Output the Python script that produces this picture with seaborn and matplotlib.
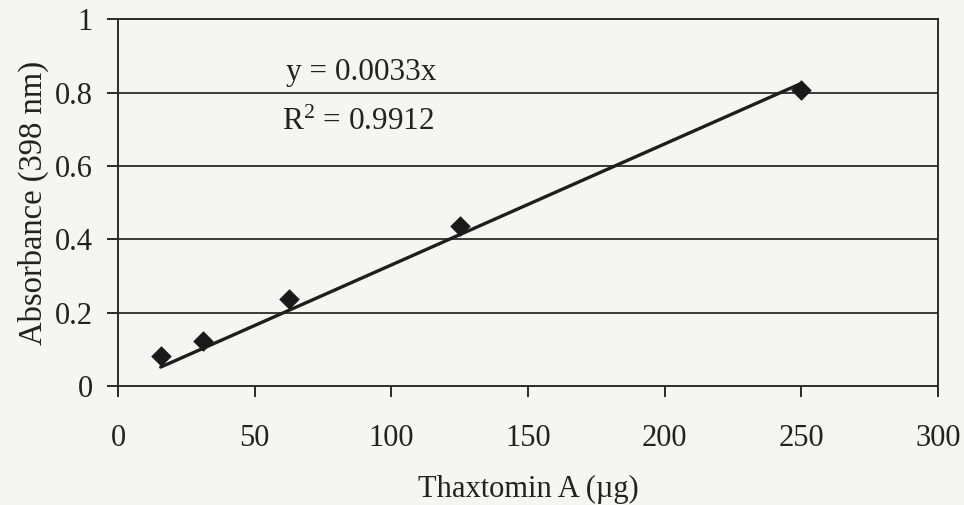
import matplotlib
matplotlib.use("Agg")
import matplotlib.pyplot as plt
import seaborn as sns
import numpy as np
import pandas as pd

# Data
thaxtomin_ug = [15.625, 31.25, 62.5, 125, 250]
absorbance = [0.082, 0.124, 0.236, 0.437, 0.807]
slope = 0.0033
r_squared = 0.9912
x_ticks = [0, 50, 100, 150, 200, 250, 300]
y_ticks = [0, 0.2, 0.4, 0.6, 0.8, 1]
y_tick_labels = ["0", "0.2", "0.4", "0.6", "0.8", "1"]

sns.set_theme(style="white")
plt.rcParams['font.family'] = ['Liberation Serif', 'DejaVu Serif']
plt.rcParams['mathtext.fontset'] = 'custom'
plt.rcParams['mathtext.rm'] = 'Liberation Serif'
plt.rcParams['mathtext.it'] = 'Liberation Serif:italic'

bg = "#f5f5f4"
ink = "#2a2a2a"

fig = plt.figure(figsize=(9.64, 5.05), dpi=100, facecolor=bg)
ax = fig.add_axes([0.1224, 0.2356, 0.8506, 0.7264])
ax.set_facecolor(bg)

df = pd.DataFrame({"x": thaxtomin_ug, "y": absorbance})
trend_x = [min(thaxtomin_ug), max(thaxtomin_ug)]
trend = pd.DataFrame({"x": trend_x, "y": [slope * v for v in trend_x]})

for yv in y_ticks[1:]:
    ax.axhline(yv, color="#3a3a3a", lw=1.4, zorder=1)

sns.lineplot(data=trend, x="x", y="y", ax=ax, color="#1e1e1e", lw=2.4, zorder=3)
sns.scatterplot(data=df, x="x", y="y", ax=ax, marker="D", s=110, color="#1a1a1a",
                edgecolor="#1a1a1a", linewidth=0, zorder=4)

ax.set_xlim(0, 300)
ax.set_ylim(0, 1)
ax.set_xticks(x_ticks)
ax.set_xticklabels([str(t) for t in x_ticks])
ax.set_yticks(y_ticks)
ax.set_yticklabels(y_tick_labels)

for s in ax.spines.values():
    s.set_color(ink)
    s.set_linewidth(1.4)
    s.set_visible(True)

ax.tick_params(axis="both", direction="out", length=8, width=1.4, color=ink,
               labelsize=22, labelcolor="#222222")
ax.tick_params(axis="x", pad=19)
ax.tick_params(axis="y", pad=10)
ax.tick_params(bottom=True, left=True)

ax.set_xlabel("Thaxtomin A (\u00b5g)", fontsize=22, color="#222222", labelpad=16)
ax.set_ylabel("Absorbance (398 nm)", fontsize=23.5, color="#222222", labelpad=4)

ax.text(61.5, 0.855, "y = 0.0033x", fontsize=22.5, color="#222222", va="center", ha="left")
ax.text(60, 0.72, "R$^{2}$ = 0.9912", fontsize=22.5, color="#222222", va="center", ha="left")

fig.savefig("out.png", dpi=100, facecolor=bg)
